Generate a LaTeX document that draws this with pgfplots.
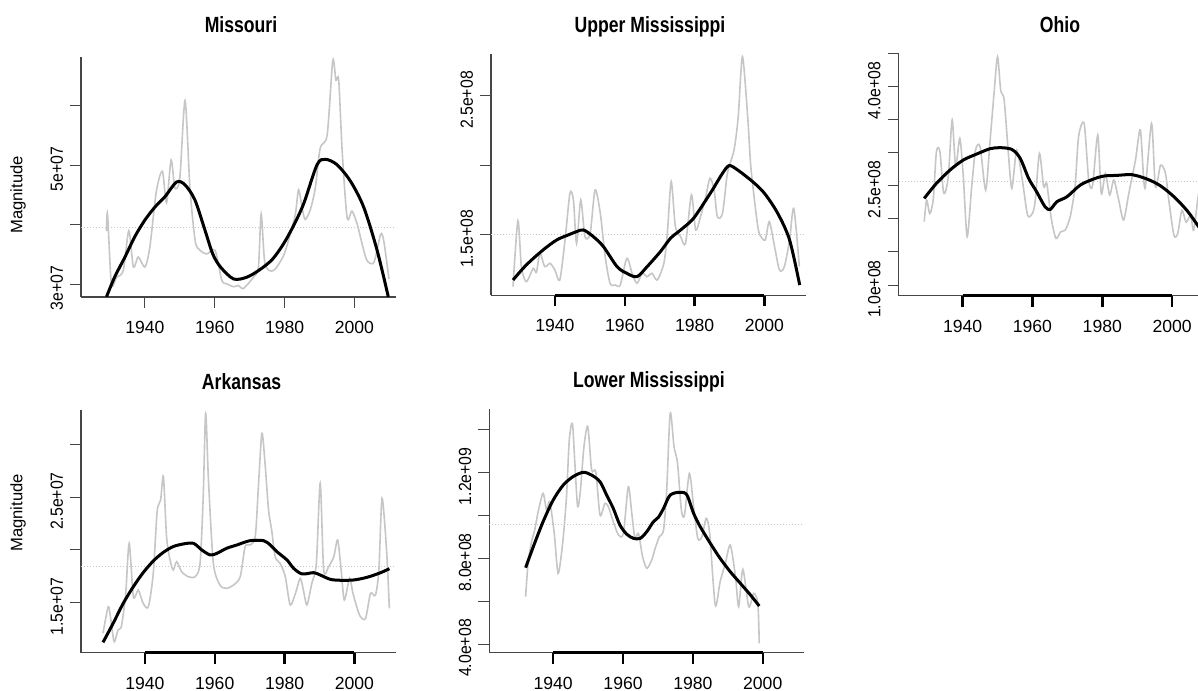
\documentclass[border=0pt]{standalone}
\usepackage{fontspec}
\setmainfont{Liberation Sans}
\newfontfamily\titlefont[FakeStretch=0.8]{Liberation Sans}
\newfontfamily\ylabfont[FakeStretch=0.9]{Liberation Sans}
\usepackage{pgfplots}
\pgfplotsset{compat=1.18}
\definecolor{lgray}{RGB}{198,198,198}
\definecolor{axgray}{RGB}{70,70,70}
\pgfplotsset{
  panel/.style={
    scale only axis, anchor=south west,
    width=157.5pt, height=121pt,
    xmin=1921.7, xmax=2011.9,
    axis lines=left,
    axis line style={-, draw=axgray, line width=0.55pt},
    tick align=outside, major tick length=5.5pt,
    ytick style={draw=axgray, line width=0.5pt},
    xtick={1940,1960,1980,2000},
    xticklabels={1940,1960,1980,2000},
    xtick style={draw=black, line width=1.2pt},
    scaled y ticks=false,
    /pgf/number format/assume math mode=true,
    xticklabel style={font=\fontsize{8.8}{10}\selectfont, yshift=-3pt},
    yticklabel style={font=\ylabfont\fontsize{8.8}{10}\selectfont, rotate=90, anchor=south, xshift=-2pt},
    clip mode=individual,
  },
  gline/.style={lgray, line width=0.8pt, smooth, tension=0.45},
  bline/.style={black, line width=1.5pt, smooth, tension=0.5},
  mline/.style={black!22, densely dotted, line width=0.5pt},
}
\begin{document}
\begin{tikzpicture}
\useasboundingbox (0,0) rectangle (599pt,345pt);
\clip (0,0) rectangle (599pt,345pt);

% ---------------- Missouri ----------------
\begin{axis}[panel, at={(40.5pt,196.5pt)}, height=120pt,
  ymin=2.787e7, ymax=6.82e7,
  ytick={3e7,4e7,5e7,6e7}, yticklabels={3e+07,,5e+07,},
  xtick style={draw=axgray, line width=0.5pt}]
\addplot[mline] coordinates {(1921.7,3.96e7) (2011.9,3.96e7)};
\addplot[gline] coordinates {
(1929.0,3.9e7) (1929.3,4.18e7) (1930.4,3.01e7) (1931.9,3.12e7) (1933.8,3.23e7)
(1935.4,3.9e7) (1936.7,3.29e7) (1938.1,3.46e7) (1940.0,3.29e7) (1941.4,3.62e7)
(1943.3,4.57e7) (1945.0,4.9e7) (1946.2,4.37e7) (1947.5,5.09e7) (1948.6,4.62e7)
(1950.0,4.79e7) (1951.5,6.09e7) (1952.9,4.62e7) (1954.4,3.73e7) (1955.8,3.57e7)
(1957.7,3.51e7) (1960.1,3.57e7) (1962.0,3.07e7) (1963.4,3.01e7) (1965.4,2.96e7)
(1966.8,2.98e7) (1968.2,2.93e7) (1971.1,3.12e7) (1972.5,3.29e7) (1973.3,4.18e7)
(1974.4,3.34e7) (1976.8,3.23e7) (1979.7,3.48e7) (1981.6,3.84e7) (1983.1,4.18e7)
(1984.0,4.59e7) (1985.0,4.29e7) (1985.9,4.09e7) (1987.4,4.26e7) (1988.8,4.62e7)
(1990.2,5.29e7) (1992.2,5.51e7) (1993.8,6.76e7) (1994.7,6.43e7) (1995.5,6.43e7)
(1996.5,5.23e7) (1997.9,4.12e7) (1999.3,4.23e7) (2000.8,4.01e7) (2002.2,3.68e7)
(2003.6,3.4e7) (2005.6,3.37e7) (2007.5,3.84e7) (2008.4,3.73e7) (2009.9,3.09e7)};
\addplot[bline] coordinates {
(1929.0,2.79e7) (1931.4,3.13e7) (1934.3,3.46e7) (1937.1,3.80e7) (1940.0,4.08e7)
(1942.9,4.30e7) (1945.7,4.47e7) (1949.1,4.72e7) (1951.5,4.67e7) (1954.3,4.42e7)
(1957.2,3.91e7) (1959.5,3.50e7) (1961.8,3.28e7) (1965.4,3.09e7) (1969.2,3.12e7)
(1973.0,3.25e7) (1976.5,3.42e7) (1979.7,3.68e7) (1982.6,3.99e7) (1985.5,4.36e7)
(1989.3,5.01e7) (1991.7,5.10e7) (1995.0,5.01e7) (1998.9,4.73e7) (2002.7,4.29e7)
(2006.5,3.57e7) (2009.7,2.79e7)};
\end{axis}

% ---------------- Upper Mississippi ----------------
\begin{axis}[panel, at={(245.5pt,197.35pt)}, height=120.5pt,
  ymin=1.066e8, ymax=2.8e8,
  ytick={1.5e8,2e8,2.5e8}, yticklabels={1.5e+08,,2.5e+08}]
\addplot[mline] coordinates {(1921.7,1.505e8) (2011.9,1.505e8)};
\addplot[gline] coordinates {
(1928.0,1.128e8) (1929.4,1.603e8) (1930.4,1.272e8) (1931.8,1.164e8) (1933.8,1.26e8)
(1934.7,1.23e8) (1935.7,1.368e8) (1937.1,1.272e8) (1938.6,1.296e8) (1940.0,1.248e8)
(1941.4,1.176e8) (1942.9,1.464e8) (1944.3,1.8e8) (1945.3,1.752e8) (1946.2,1.44e8)
(1947.4,1.752e8) (1948.6,1.488e8) (1950.1,1.512e8) (1951.5,1.824e8) (1953.0,1.656e8)
(1954.4,1.344e8) (1955.8,1.152e8) (1957.3,1.14e8) (1958.7,1.14e8) (1960.6,1.332e8)
(1962.1,1.224e8) (1963.5,1.152e8) (1965.0,1.224e8) (1966.4,1.2e8) (1967.8,1.224e8)
(1969.3,1.176e8) (1971.2,1.296e8) (1972.2,1.512e8) (1973.3,1.884e8) (1974.5,1.56e8)
(1976.0,1.488e8) (1977.4,1.44e8) (1979.1,1.788e8) (1980.3,1.536e8) (1981.7,1.632e8)
(1983.2,1.776e8) (1984.4,1.908e8) (1985.6,1.824e8) (1986.5,1.632e8) (1988.0,1.656e8)
(1989.4,1.944e8) (1991.3,2.112e8) (1992.5,2.352e8) (1993.7,2.783e8) (1995.2,2.352e8)
(1996.1,1.992e8) (1997.6,1.656e8) (1998.5,1.512e8) (2000.2,1.464e8) (2001.4,1.596e8)
(2002.9,1.416e8) (2004.3,1.248e8) (2005.7,1.272e8) (2007.2,1.464e8) (2008.4,1.692e8)
(2010.0,1.272e8)};
\addplot[bline] coordinates {
(1928.0,1.176e8) (1931.8,1.284e8) (1936.6,1.392e8) (1940.5,1.464e8) (1943.8,1.5e8)
(1946.2,1.524e8) (1948.2,1.536e8) (1951.0,1.488e8) (1953.9,1.416e8) (1957.8,1.272e8)
(1960.6,1.224e8) (1963.5,1.2e8) (1966.4,1.272e8) (1970.2,1.38e8) (1973.1,1.476e8)
(1976.0,1.536e8) (1979.3,1.608e8) (1981.7,1.692e8) (1985.1,1.824e8) (1988.0,1.944e8)
(1989.9,1.999e8) (1992.3,1.968e8) (1996.6,1.884e8) (2000.0,1.8e8) (2003.8,1.656e8)
(2007.2,1.464e8) (2010.1,1.14e8)};
\draw[black, line width=1.3pt] (axis cs:1940,1.066e8) -- (axis cs:2000,1.066e8);
\end{axis}

% ---------------- Ohio ----------------
\begin{axis}[panel, at={(449.35pt,197.15pt)}, height=121.5pt,
  ymin=0.839e8, ymax=4.513e8,
  ytick={1e8,1.5e8,2e8,2.5e8,3e8,3.5e8,4e8,4.5e8},
  yticklabels={1.0e+08,,,2.5e+08,,,4.0e+08,}]
\addplot[mline] coordinates {(1921.7,2.572e8) (2011.9,2.572e8)};
\addplot[gline] coordinates {
(1929.0,1.958e8) (1929.7,2.285e8) (1930.6,2.08e8) (1931.6,2.3e8) (1932.5,3.016e8)
(1933.5,3.016e8) (1934.6,2.386e8) (1935.9,2.638e8) (1937.0,3.495e8) (1938.0,2.789e8)
(1939.2,3.218e8) (1940.2,2.638e8) (1941.3,1.731e8) (1942.6,2.487e8) (1943.7,3.041e8)
(1945.0,3.092e8) (1946.6,2.436e8) (1947.8,3.142e8) (1949.0,3.898e8) (1950.0,4.452e8)
(1950.9,3.948e8) (1951.9,3.797e8) (1953.1,2.991e8) (1954.1,2.462e8) (1955.5,3.041e8)
(1957.1,2.588e8) (1958.6,2.058e8) (1960.0,2.084e8) (1960.8,2.28e8) (1962.0,2.991e8)
(1963.2,2.487e8) (1964.1,2.537e8) (1965.3,2.033e8) (1966.7,1.706e8) (1968.1,1.806e8)
(1969.4,1.832e8) (1970.8,2.033e8) (1972.2,2.487e8) (1973.2,3.243e8) (1974.8,3.444e8)
(1976.1,2.588e8) (1977.2,2.5e8) (1978.7,3.268e8) (1979.7,2.386e8) (1980.9,2.688e8)
(1982.1,2.361e8) (1983.3,2.588e8) (1984.7,2.285e8) (1986.1,1.983e8) (1987.6,2.386e8)
(1989.5,2.89e8) (1990.9,3.344e8) (1992.2,2.462e8) (1994.1,3.444e8) (1995.2,2.487e8)
(1996.7,2.814e8) (1998.1,2.688e8) (1999.0,2.3e8) (2000.5,1.756e8) (2001.6,1.78e8)
(2002.8,2.13e8) (2004.0,1.95e8) (2005.3,2.05e8) (2006.2,1.83e8) (2007.6,2.39e8)
(2009.0,2.55e8) (2010.0,2.2e8)};
\addplot[bline] coordinates {
(1929.0,2.31e8) (1932.5,2.537e8) (1936.4,2.739e8) (1940.2,2.89e8) (1944.0,2.98e8)
(1947.8,3.06e8) (1950.7,3.077e8) (1954.1,3.05e8) (1956.5,2.915e8) (1958.9,2.613e8)
(1961.2,2.41e8) (1963.6,2.184e8) (1965.1,2.144e8) (1967.0,2.26e8) (1969.9,2.336e8)
(1973.7,2.512e8) (1977.5,2.603e8) (1980.4,2.648e8) (1984.2,2.658e8) (1988.5,2.668e8)
(1992.8,2.603e8) (1996.6,2.502e8) (2000.5,2.336e8) (2004.3,2.124e8) (2007.6,1.882e8)
(2010.0,1.70e8)};
\draw[black, line width=1.3pt] (axis cs:1940,0.839e8) -- (axis cs:2000,0.839e8);
\end{axis}

% ---------------- Arkansas ----------------
\begin{axis}[panel, at={(40.5pt,18.65pt)}, height=121.35pt,
  ymin=1.026e7, ymax=3.325e7,
  ytick={1.5e7,2e7,2.5e7,3e7}, yticklabels={1.5e+07,,2.5e+07,}]
\addplot[mline] coordinates {(1921.7,1.838e7) (2011.9,1.838e7)};
\addplot[gline] coordinates {
(1928.0,1.21e7) (1929.5,1.462e7) (1930.2,1.35e7) (1931.2,1.13e7) (1932.3,1.241e7)
(1933.3,1.28e7) (1934.5,1.588e7) (1935.5,2.062e7) (1936.7,1.557e7) (1938.1,1.62e7)
(1939.5,1.494e7) (1941.0,1.462e7) (1942.4,1.778e7) (1943.5,2.362e7) (1944.5,2.473e7)
(1945.3,2.694e7) (1946.2,2.125e7) (1947.2,1.904e7) (1948.1,1.809e7) (1949.1,1.888e7)
(1950.5,1.794e7) (1952.4,1.746e7) (1954.4,1.746e7) (1955.8,1.873e7) (1956.7,2.504e7)
(1957.4,3.294e7) (1958.2,2.662e7) (1959.6,1.873e7) (1961.5,1.667e7) (1963.4,1.636e7)
(1965.4,1.667e7) (1967.3,1.746e7) (1968.7,2.031e7) (1970.1,2.046e7) (1971.6,2.125e7)
(1972.5,2.599e7) (1973.5,3.104e7) (1974.4,2.82e7) (1975.4,2.378e7) (1976.3,2.188e7)
(1977.3,1.936e7) (1978.7,1.873e7) (1980.2,1.746e7) (1981.6,1.478e7) (1983.1,1.588e7)
(1984.5,1.73e7) (1985.5,1.6e7) (1986.4,1.478e7) (1987.8,1.683e7) (1989.1,1.873e7)
(1990.2,2.631e7) (1991.2,1.809e7) (1992.6,1.841e7) (1994.1,1.936e7) (1995.2,2.094e7)
(1996.2,1.809e7) (1997.1,1.525e7) (1998.6,1.73e7) (1999.5,1.6e7) (2000.5,1.478e7)
(2001.7,1.367e7) (2003.2,1.352e7) (2004.6,1.588e7) (2006.0,1.57e7) (2007.0,1.809e7)
(2007.9,2.488e7) (2009.2,2.0e7) (2010.0,1.446e7)};
\addplot[bline] coordinates {
(1928.0,1.124e7) (1930.9,1.304e7) (1933.8,1.494e7) (1936.7,1.652e7) (1939.5,1.784e7)
(1942.4,1.895e7) (1945.3,1.977e7) (1948.1,2.031e7) (1951.0,2.056e7) (1953.9,2.062e7)
(1956.3,1.999e7) (1958.7,1.952e7) (1960.6,1.967e7) (1963.4,2.015e7) (1966.3,2.046e7)
(1970.1,2.087e7) (1974.0,2.087e7) (1975.9,2.046e7) (1977.8,1.983e7) (1980.7,1.904e7)
(1982.6,1.825e7) (1985.0,1.772e7) (1988.3,1.784e7) (1990.2,1.762e7) (1993.1,1.721e7)
(1996.0,1.712e7) (1999.8,1.715e7) (2003.6,1.74e7) (2007.5,1.784e7) (2010.0,1.822e7)};
\draw[black, line width=1.3pt] (axis cs:1940,1.026e7) -- (axis cs:2000,1.026e7);
\end{axis}

% ---------------- Lower Mississippi ----------------
\begin{axis}[panel, at={(244.65pt,18.65pt)}, height=121.85pt,
  ymin=3.596e8, ymax=1.495e9,
  ytick={4e8,6e8,8e8,1e9,1.2e9,1.4e9}, yticklabels={4.0e+08,,8.0e+08,,1.2e+09,}]
\addplot[mline] coordinates {(1921.7,9.59e8) (2011.9,9.59e8)};
\addplot[gline] coordinates {
(1932.1,6.205e8) (1932.8,7.758e8) (1933.8,8.768e8) (1934.7,9.311e8) (1935.7,1.017e9)
(1937.1,1.102e9) (1938.1,1.024e9) (1939.0,1.063e9) (1940.3,9.156e8) (1941.4,7.292e8)
(1942.7,8.69e8) (1943.8,1.086e9) (1944.6,1.35e9) (1945.5,1.428e9) (1946.2,1.242e9)
(1947.0,1.04e9) (1947.8,1.117e9) (1948.8,1.319e9) (1949.9,1.413e9) (1951.0,1.211e9)
(1952.2,1.203e9) (1953.4,1.001e9) (1954.8,1.055e9) (1955.8,1.04e9) (1957.2,9.7e8)
(1958.7,9.078e8) (1960.1,9.156e8) (1961.5,1.133e9) (1962.5,1.009e9) (1963.4,8.923e8)
(1964.4,9.156e8) (1965.6,8.069e8) (1966.8,7.525e8) (1968.2,7.913e8) (1969.2,8.457e8)
(1970.4,9.0e8) (1971.6,9.311e8) (1972.5,1.117e9) (1973.5,1.475e9) (1974.6,1.319e9)
(1975.6,1.242e9) (1976.7,1.024e9) (1977.6,1.001e9) (1979.0,1.195e9) (1980.2,1.04e9)
(1981.4,8.923e8) (1982.6,9.0e8) (1983.8,9.855e8) (1984.8,9.156e8) (1986.4,5.817e8)
(1987.8,6.904e8) (1989.3,7.758e8) (1990.7,8.612e8) (1992.2,7.137e8) (1993.1,5.739e8)
(1994.3,7.479e8) (1996.0,5.739e8) (1997.4,6.361e8) (1998.6,5.895e8) (1999.0,4.031e8)};
\addplot[bline] coordinates {
(1932.1,7.556e8) (1934.3,8.535e8) (1937.1,9.7e8) (1940.0,1.071e9) (1942.9,1.141e9)
(1945.7,1.18e9) (1948.6,1.2e9) (1951.0,1.187e9) (1953.4,1.156e9) (1955.3,1.094e9)
(1957.2,1.032e9) (1959.1,9.544e8) (1961.1,9.11e8) (1963.0,8.923e8) (1964.9,8.923e8)
(1966.8,9.234e8) (1968.7,9.7e8) (1970.1,9.9e8) (1971.6,1.032e9) (1973.5,1.094e9)
(1976.4,1.107e9) (1978.3,1.094e9) (1980.2,1.009e9) (1982.1,9.467e8) (1985.0,8.69e8)
(1987.8,7.991e8) (1990.7,7.37e8) (1993.6,6.826e8) (1996.5,6.283e8) (1999.0,5.77e8)};
\draw[black, line width=1.3pt] (axis cs:1940,3.596e8) -- (axis cs:2000,3.596e8);
\end{axis}

% ---------------- titles and labels ----------------
\node[font=\titlefont\bfseries\fontsize{11}{13}\selectfont] at (120.5pt,332.5pt) {Missouri};
\node[font=\titlefont\bfseries\fontsize{11}{13}\selectfont] at (325pt,331.7pt) {Upper Mississippi};
\node[font=\titlefont\bfseries\fontsize{11}{13}\selectfont] at (530pt,332.5pt) {Ohio};
\node[font=\titlefont\bfseries\fontsize{11}{13}\selectfont] at (120.8pt,154.2pt) {Arkansas};
\node[font=\titlefont\bfseries\fontsize{11}{13}\selectfont] at (324.5pt,154.2pt) {Lower Mississippi};
\node[rotate=90, font=\fontsize{8.3}{10}\selectfont] at (9pt,247.5pt) {Magnitude};
\node[rotate=90, font=\fontsize{8.3}{10}\selectfont] at (9pt,88.5pt) {Magnitude};
\end{tikzpicture}
\end{document}
